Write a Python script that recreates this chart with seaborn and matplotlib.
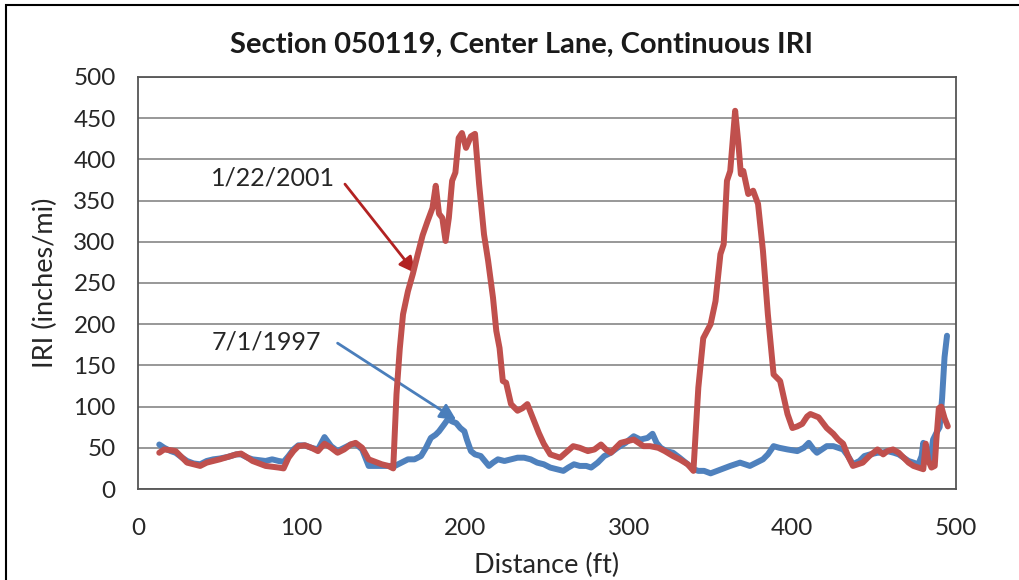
import pandas as pd
import matplotlib.pyplot as plt
import seaborn as sns
from matplotlib.patches import Rectangle

# IRI profile, 1/22/2001 (red)
dist_2001 = [13, 16, 20, 23, 27, 30, 34, 38, 42, 46, 50, 55, 60, 63, 67, 70, 74, 78, 82, 86,
             89, 92, 95, 98, 102, 106, 110, 114, 118, 122, 126, 130, 133, 137, 141, 145, 149, 153, 156, 158,
             160, 162, 165, 168, 171, 174, 177, 180, 182, 184, 186, 188, 190, 192, 194, 196, 198, 200.5, 203.5, 206,
             208.5, 211.5, 214, 217, 219, 221, 223, 225, 228, 232, 235, 238, 242, 245, 248, 252, 255, 258, 262, 266,
             270, 275, 279, 283, 286, 289, 292, 295, 299, 303, 306, 309, 313, 318, 322, 327, 331, 336, 339.5, 342.5,
             345.5, 350, 353, 356, 358, 360, 362, 365, 367, 368.5, 370, 373, 376, 379, 382, 385, 388.5, 392.5, 397, 400,
             403, 406, 409, 411, 416, 421, 425, 428, 431, 434, 437, 440, 443, 447, 452, 455.5, 458, 461.5, 465, 468,
             471, 474, 477, 480, 481.5, 483, 485, 487, 488, 489.5, 491, 493, 495]
iri_2001 = [44, 48, 47, 46, 38, 32, 30, 28, 32, 34, 36, 39, 42, 43, 38, 34, 31, 28, 27, 26,
            25, 38, 46, 52, 53, 50, 46, 55, 50, 44, 48, 54, 56, 50, 36, 33, 30, 28, 25, 115,
            170, 212, 240, 261, 285, 308, 325, 341, 368, 334, 329, 301, 329, 374, 384, 426, 432, 414, 428, 431,
            370, 309, 277, 232, 192, 171, 131, 129, 103, 95, 98, 103, 83, 68, 55, 42, 40, 38, 45, 52,
            50, 46, 48, 54, 48, 44, 50, 56, 58, 60, 56, 52, 52, 50, 46, 40, 36, 30, 22, 123,
            183, 200, 228, 285, 297, 374, 386, 459, 419, 382, 386, 358, 362, 346, 289, 212, 139, 131, 91, 74,
            76, 79, 88, 91, 87, 74, 67, 60, 55, 40, 28, 30, 32, 40, 48, 42, 46, 48, 44, 38,
            32, 28, 26, 24, 55, 35, 26, 28, 60, 98, 100, 86, 76]

# IRI profile, 7/1/1997 (blue)
dist_1997 = [13, 16, 20, 23, 27, 30, 34, 38, 42, 46, 50, 55, 60, 63, 67, 70, 74, 78, 82, 86,
             89, 92, 95, 98, 102, 106, 110, 114, 118, 122, 126, 130, 133, 137, 141, 145, 149, 153, 157, 161,
             165, 169, 173, 176, 179, 182, 184, 187, 189.5, 192, 194.5, 197, 199.5, 201, 203.5, 206, 209.5, 212, 214.5, 217,
             220, 224, 228, 232, 236, 240, 244, 248, 252, 256, 260, 263, 266.5, 270, 274, 277, 281, 285, 289, 293,
             298, 303, 307, 311.5, 314.5, 317, 319.5, 323, 327, 331, 336, 339.5, 342.5, 346, 350, 354, 358, 362, 365, 368,
             371, 374, 378, 382, 385, 388.5, 392, 397, 400, 403, 407, 410, 413, 415, 418, 421, 425, 428, 431, 434,
             437, 441, 444, 447.5, 452, 455, 458, 462, 465, 468, 471, 474, 477, 479, 480, 482, 484, 486, 488, 490,
             491.5, 493, 494.5]
iri_1997 = [54, 50, 46, 44, 38, 34, 31, 30, 34, 36, 37, 39, 42, 42, 38, 36, 35, 34, 36, 34,
            33, 40, 48, 53, 53, 50, 48, 63, 52, 46, 50, 54, 55, 48, 28, 28, 28, 28, 28, 32,
            36, 36, 40, 50, 62, 66, 70, 78, 85, 82, 80, 74, 70, 60, 46, 42, 40, 34, 28, 32,
            36, 34, 36, 38, 38, 36, 32, 30, 26, 24, 22, 26, 30, 28, 28, 26, 32, 40, 44, 50,
            56, 64, 60, 62, 67, 56, 50, 46, 44, 38, 30, 24, 22, 22, 19, 22, 25, 28, 30, 32,
            30, 28, 32, 36, 42, 52, 50, 48, 47, 46, 50, 56, 48, 44, 48, 52, 52, 50, 48, 40,
            30, 34, 40, 42, 44, 44, 46, 44, 42, 38, 34, 32, 30, 40, 56, 40, 32, 60, 68, 75,
            110, 160, 186]

df_2001 = pd.DataFrame({'dist': dist_2001, 'iri': iri_2001})
df_1997 = pd.DataFrame({'dist': dist_1997, 'iri': iri_1997})

sns.set_style("white")
plt.rcParams['font.family'] = ['Lato', 'DejaVu Sans']

fig = plt.figure(figsize=(10.19, 5.8), dpi=100)
ax = fig.add_axes([138 / 1019, 1 - 489 / 580, (956 - 138) / 1019, (489 - 77) / 580])

sns.lineplot(data=df_1997, x='dist', y='iri', ax=ax, color='#4F81BD', linewidth=4.3, zorder=3)
sns.lineplot(data=df_2001, x='dist', y='iri', ax=ax, color='#C0504D', linewidth=4.3, zorder=4)

ax.set_xlim(0, 500)
ax.set_ylim(0, 500)
ax.set_xticks(range(0, 501, 100))
ax.set_yticks(range(0, 501, 50))
ax.grid(axis='y', color='#868686', linewidth=1.2)
ax.set_axisbelow(True)
for s in ax.spines.values():
    s.set_color('#555555')
    s.set_linewidth(1.3)
ax.tick_params(axis='both', which='both', direction='out', length=7, width=1.3,
               color='#555555', labelsize=17.5, labelcolor='#262626', pad=9)
ax.tick_params(axis='x', pad=14)

fig.text(521 / 1019, 1 - 45 / 580, 'Section 050119, Center Lane, Continuous IRI',
         fontsize=21, fontweight='bold', ha='center', va='center', color='#1a1a1a')
ax.set_xlabel('Distance (ft)', fontsize=19.5, color='#262626', labelpad=10)
ax.set_ylabel('IRI (inches/mi)', fontsize=19.5, color='#262626', labelpad=11)

ax.text(44.6, 368, '1/22/2001', fontsize=18, color='#262626', ha='left', va='baseline')
ax.annotate('', xy=(169.5, 262), xytext=(126.5, 370),
            arrowprops=dict(arrowstyle='-|>', color='#B22222', lw=2, mutation_scale=24,
                            shrinkA=0, shrinkB=0))
ax.text(45, 169, '7/1/1997', fontsize=18, color='#262626', ha='left', va='baseline')
ax.annotate('', xy=(194.5, 84), xytext=(122, 177),
            arrowprops=dict(arrowstyle='-|>', color='#4A7EBB', lw=2, mutation_scale=24,
                            shrinkA=0, shrinkB=0))

# outer chart border (left/top visible in the reference)
fig.patches.append(Rectangle((6 / 1019, -0.1), 1.2, 1.1 - 5 / 580, transform=fig.transFigure,
                             fill=False, edgecolor='black', linewidth=1.5, clip_on=False))

fig.savefig('out.png', dpi=100)
